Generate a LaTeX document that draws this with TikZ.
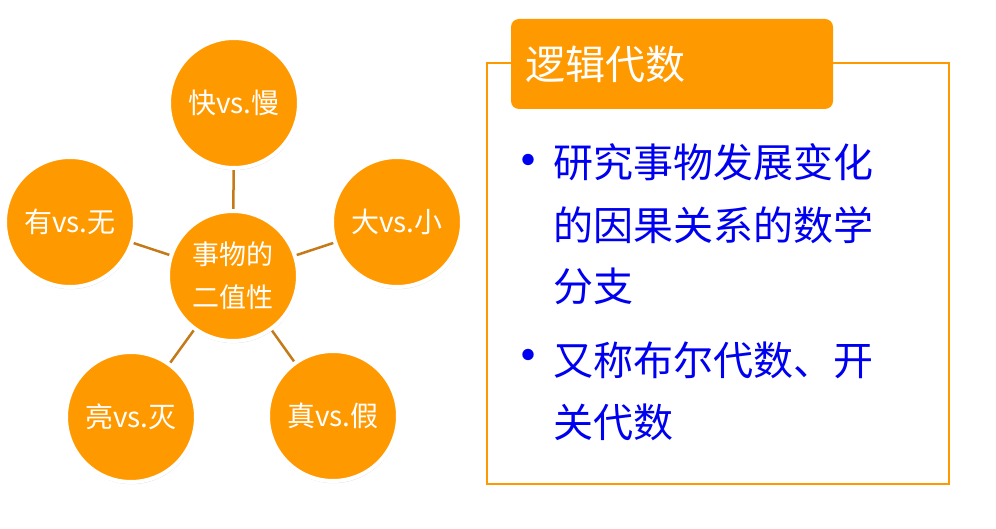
\documentclass[tikz,border=0pt]{standalone}
\usepackage{fontspec}
\newfontfamily\cjk{Noto Sans CJK SC}
\usetikzlibrary{shapes,arrows}
\usetikzlibrary{calc,positioning,shadows,backgrounds}
\definecolor{amber}{RGB}{255,153,0}
\definecolor{linkc}{RGB}{196,122,24}
\definecolor{itemblue}{RGB}{0,0,240}
\tikzstyle{pairc} = [circle,minimum size=130pt,inner sep=0pt,fill=amber,draw=white,line width=4pt,text=white,font=\cjk\fontsize{28}{30}\selectfont,drop shadow={opacity=0.3,shadow scale=1.01,shadow xshift=0.5pt,shadow yshift=-1.5pt}]
\tikzstyle{link} = [draw=linkc,line width=2.5pt]
\tikzstyle{frame} = [draw=amber,line width=2.5pt]
\tikzstyle{titlebox} = [rectangle,rounded corners=8pt,fill=amber,text=white,minimum height=90pt,text width=294pt,inner xsep=14pt,align=left,font=\cjk\fontsize{40}{48}\selectfont]
\tikzstyle{itemtext} = [text=itemblue,align=left,inner sep=0pt,font=\cjk\fontsize{40}{62}\selectfont]
\tikzstyle{dot} = [text=itemblue,inner sep=0pt,font=\cjk\fontsize{54}{54}\selectfont]

\begin{document}
\begin{tikzpicture}[x=1pt,y=-1pt]
\useasboundingbox (0,0) rectangle (996,529);

% left: the pairs round the core
\node (core) [pairc,align=center,font=\cjk\fontsize{27}{43}\selectfont] at (233,276) {事物的\\二值性};
\node (pair1) [pairc] at ($(core)+(1,-173)$) {快vs.慢};
\node (pair2) [pairc] at ($(core)+(164,-54)$) {大vs.小};
\node (pair3) [pairc] at ($(core)+(100,140)$) {真vs.假};
\node (pair4) [pairc] at ($(core)+(-102,141)$) {亮vs.灭};
\node (pair5) [pairc] at ($(core)+(-163,-54)$) {有vs.无};

\begin{scope}[on background layer]
\foreach \i in {1,...,5}
{
	\draw[link] (core.center)--(pair\i.center);
}
\end{scope}

% right: the box
\draw[frame] (487,63) rectangle (949,484);
\node (title) [titlebox] at (672,64) {逻辑代数};

\node (dot1) [dot] at (528,167) {•};
\node (item1) [itemtext,anchor=base west] at (553,302) {研究事物发展变化\\的因果关系的数学\\分支};
\node (dot2) [dot] at (528,362) {•};
\node (item2) [itemtext,anchor=base west] at (553,437) {又称布尔代数、开\\关代数};

\end{tikzpicture}
\end{document}
